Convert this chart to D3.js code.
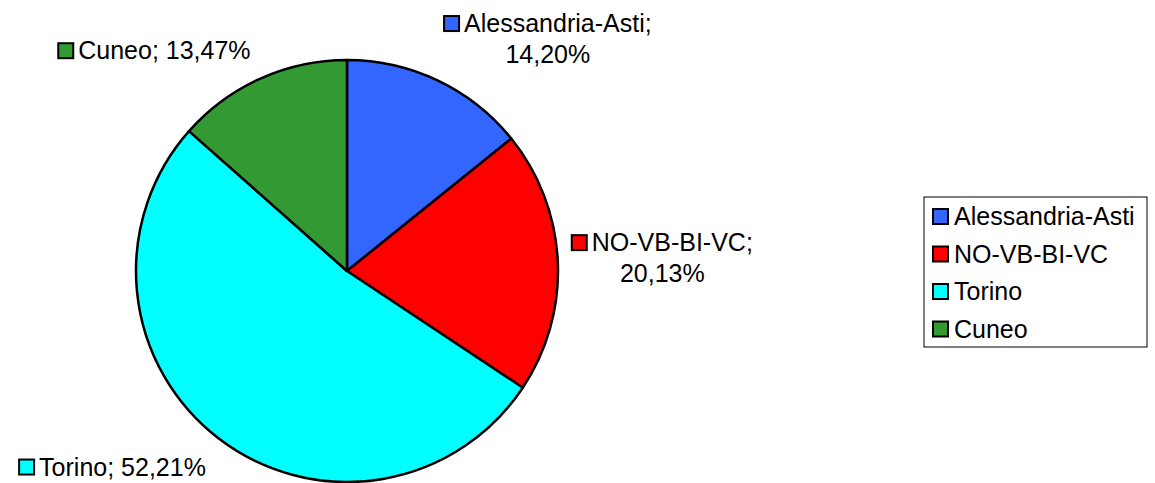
<!DOCTYPE html>
<html>
<head>
<meta charset="utf-8">
<script src="https://cdn.jsdelivr.net/npm/d3@7"></script>
<style>
  body { margin: 0; background: #fff; }
  text { font-family: "Liberation Sans", Arial, sans-serif; fill: #000; }
</style>
</head>
<body>
<script>
//Chart data.
const categories = ["Alessandria-Asti", "NO-VB-BI-VC", "Torino", "Cuneo"];
const shares = [14.20, 20.13, 52.21, 13.47];
const colors = ["#3366FF", "#FF0000", "#00FFFF", "#339933"];

const width = 1155;
const height = 483;
const fontSize = 25;

//Pie geometry.
const cx = 347, cy = 271, radius = 211;

const svg = d3.select("body")
  .append("svg")
  .attr("width", width)
  .attr("height", height);

const data = categories.map((c, i) => ({ name: c, value: shares[i], color: colors[i] }));

const pie = d3.pie()
  .sort(null)
  .value(d => d.value);

const arcs = pie(data);

const arc = d3.arc()
  .innerRadius(0)
  .outerRadius(radius);

const group = svg.append("g")
  .attr("transform", `translate(${cx},${cy})`);

group.selectAll("path")
  .data(arcs)
  .join("path")
  .attr("d", arc)
  .attr("fill", d => d.data.color)
  .attr("stroke", "#000")
  .attr("stroke-width", 2.5)
  .attr("stroke-linejoin", "round");

const fmt = v => v.toFixed(2).replace(".", ",") + "%";
const sw = 15; // swatch size
const gap = 5;
const lineH = 31;

//Measure a string at the label font size.
function textWidth(t) {
  const p = svg.append("text").style("font-size", fontSize + "px").text(t);
  const w = p.node().getComputedTextLength();
  p.remove();
  return w;
}

//Data labels, placed just outside the pie like Excel does.
arcs.forEach(a => {
  const mid = (a.startAngle + a.endAngle) / 2;
  const s = Math.sin(mid), c = Math.cos(mid);
  const ax = cx + (radius + 14) * s;
  const ay = cy - (radius + 14) * c;

  const g = svg.append("g");
  const full = `${a.data.name}; ${fmt(a.data.value)}`;

  let lines;
  if (textWidth(full) > 210) lines = [a.data.name + ";", fmt(a.data.value)];
  else lines = [full];

  const widths = lines.map(textWidth);
  const firstW = sw + gap + widths[0];
  const boxW = Math.max(firstW, ...widths.slice(1));
  const boxH = lines.length * lineH;

  const left = s >= 0 ? ax : ax - 4 - boxW;
  let centerY = ay - c * boxH / 2;
  if (c < 0) centerY -= c * 8;
  const top = centerY - boxH / 2;
  const midX = left + boxW / 2;

  lines.forEach((t, i) => {
    const base = top + i * lineH + 23;
    if (i === 0) {
      const x0 = midX - firstW / 2;
      g.append("rect")
        .attr("x", x0).attr("y", base - 16)
        .attr("width", sw).attr("height", sw)
        .attr("fill", a.data.color)
        .attr("stroke", "#000").attr("stroke-width", 2);
      g.append("text")
        .attr("x", x0 + sw + gap).attr("y", base)
        .style("font-size", fontSize + "px")
        .text(t);
    } else {
      g.append("text")
        .attr("x", midX).attr("y", base)
        .attr("text-anchor", "middle")
        .style("font-size", fontSize + "px")
        .text(t);
    }
  });
});

//Legend.
const legend = svg.append("g").attr("transform", "translate(924,197)");
legend.append("rect")
  .attr("x", 0).attr("y", 0)
  .attr("width", 223).attr("height", 150)
  .attr("fill", "#fff")
  .attr("stroke", "#000")
  .attr("stroke-width", 1);

const ly = d3.scaleBand()
  .domain(categories)
  .range([9, 159]);

legend.selectAll("g.item")
  .data(data)
  .join("g")
  .attr("class", "item")
  .attr("transform", d => `translate(0,${ly(d.name)})`)
  .each(function (d) {
    const item = d3.select(this);
    item.append("rect")
      .attr("x", 9).attr("y", 3)
      .attr("width", sw).attr("height", sw)
      .attr("fill", d.color)
      .attr("stroke", "#000").attr("stroke-width", 2);
    item.append("text")
      .attr("x", 30).attr("y", 19)
      .style("font-size", fontSize + "px")
      .text(d.name);
  });
</script>
</body>
</html>
